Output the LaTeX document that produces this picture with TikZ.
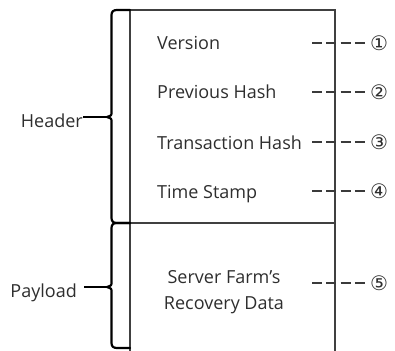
\documentclass[tikz,border=0pt]{standalone}
\usepackage{fontspec}
\setmainfont{Open Sans}
\newfontfamily\symfont{DejaVu Sans}
\definecolor{txt}{HTML}{2E2E2E}
\definecolor{boxc}{HTML}{404040}
\definecolor{dashc}{HTML}{3A3A3A}
\begin{document}
\begin{tikzpicture}[x=1pt,y=-1pt,
  lbl/.style={inner sep=0pt, text=txt, font=\fontsize{18}{26}\selectfont},
  num/.style={inner sep=0pt, text=txt, font=\symfont\fontsize{20}{22}\selectfont},
  boxline/.style={draw=boxc, line width=1.2pt},
  bracel/.style={draw=black, line width=2.2pt, line join=round, line cap=round},
  tipline/.style={draw=black, line width=1.8pt},
  dashl/.style={draw=dashc, line width=1.1pt, dash pattern=on 10pt off 4.33pt, shorten >=14pt},
  ]
\useasboundingbox (0,0) rectangle (395,350);

% block outline
\draw[boxline] (130,351) -- (130,10) -- (335,10) -- (335,351);
\draw[boxline] (130,223) -- (335,223);

% braces
\draw[bracel] (130,10) -- (117,10) .. controls (113.5,10) and (111.5,11.5) .. (111.5,15)
  -- (111.5,112) .. controls (111.5,115.5) .. (107,117) .. controls (111.5,118.5) .. (111.5,122)
  -- (111.5,218) .. controls (111.5,221.5) and (113.5,223) .. (117,223) -- (130,223);
\draw[bracel] (130,223) -- (117,223) .. controls (113.5,223) and (111.5,224.5) .. (111.5,228)
  -- (111.5,282) .. controls (111.5,285.5) .. (107,287) .. controls (111.5,288.5) .. (111.5,292)
  -- (111.5,343) .. controls (111.5,346.5) and (113.5,348) .. (117,348) -- (130,348);

% side labels
\node[lbl, anchor=base east] (hdr) at (83,127) {Header};
\coordinate (ht) at (108,117);
\draw[tipline] (hdr.east |- ht) -- (ht);
\node[lbl, anchor=base east] (pl) at (77,297) {Payload};
\coordinate (pt) at (108,287);
\draw[tipline] ([xshift=7pt]pl.east |- pt) -- (pt);

% fields
\node[lbl, anchor=base west] (ver) at (157,50) {Version};
\node[lbl, anchor=base west] (prev) at (157,99) {Previous Hash};
\node[lbl, anchor=base west] (tx) at (157,149) {Transaction Hash};
\node[lbl, anchor=base west] (ts) at (157,198) {Time Stamp};
\node[lbl, align=center] (sf) at (224,292) {Server Farm’s\\Recovery Data};

% numbers
\node[num] (n1) at (379,43) {①};
\node[num] (n2) at (379,92) {②};
\node[num] (n3) at (379,142) {③};
\node[num] (n4) at (379,191) {④};
\node[num] (n5) at (379,283) {⑤};

\coordinate (d1) at (312,43);
\coordinate (d2) at (312,92);
\coordinate (d3) at (312,142);
\coordinate (d4) at (312,191);
\coordinate (d5) at (312,283);
\draw[dashl] (d1) -- (n1.center);
\draw[dashl] (d2) -- (n2.center);
\draw[dashl] (d3) -- (n3.center);
\draw[dashl] (d4) -- (n4.center);
\draw[dashl] (d5) -- (n5.center);
\end{tikzpicture}
\end{document}
